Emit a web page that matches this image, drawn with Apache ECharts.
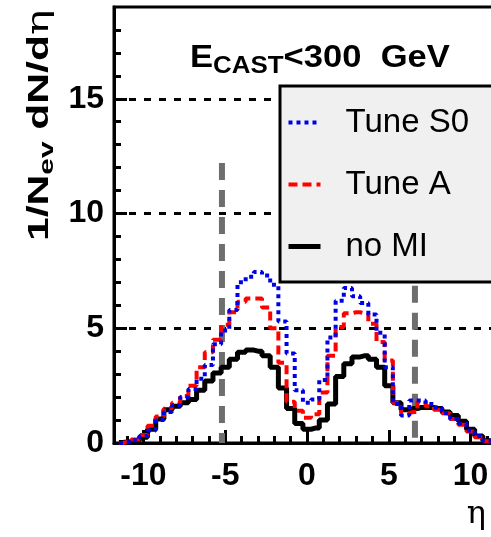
<!DOCTYPE html>
<html>
<head>
<meta charset="utf-8">
<script src="https://cdn.jsdelivr.net/npm/echarts@6/dist/echarts.min.js"></script>
<style>html,body{margin:0;padding:0;background:#fff;}#c{width:491px;height:537px;}</style>
</head>
<body>
<div id="c"></div>
<script>
const eta = [-11.5,-11,-10.5,-10,-9.5,-9,-8.5,-8,-7.5,-7,-6.5,-6,-5.5,-5,-4.5,-4,-3.5,-3,-2.5,-2,-1.5,-1,-0.5,0,0.5,1,1.5,2,2.5,3,3.5,4,4.5,5,5.5,6,6.5,7,7.5,8,8.5,9,9.5,10,10.5,11,11.5];
const tuneS0 = [0.0,0.03,0.12,0.3,0.55,1.0,1.35,1.65,2.0,2.35,2.8,3.4,4.3,4.9,5.8,7.0,7.25,7.45,7.3,6.9,5.3,3.9,2.3,1.75,1.9,2.75,4.6,6.2,6.75,6.4,6.1,5.6,4.8,3.3,1.7,1.2,1.85,1.85,1.7,1.55,1.3,1.05,0.85,0.55,0.3,0.1,0.02];
const tuneA = [0.0,0.05,0.15,0.35,0.75,1.15,1.5,1.75,2.05,2.5,3.3,3.95,4.5,5.15,5.7,6.15,6.3,6.3,5.9,5.0,3.5,1.8,1.4,1.1,1.25,2.2,3.8,5.05,5.65,5.7,5.65,5.2,4.4,3.6,1.75,1.3,1.35,1.8,1.6,1.45,1.3,1.05,0.8,0.5,0.25,0.08,0.02];
const noMI = [0.02,0.05,0.1,0.25,0.6,1.05,1.45,1.6,1.75,1.9,2.3,2.7,3.05,3.3,3.65,3.95,4.05,4.0,3.8,3.3,2.4,1.5,0.85,0.6,0.65,1.0,1.7,2.9,3.45,3.75,3.8,3.65,3.3,2.5,1.75,1.45,1.5,1.55,1.55,1.5,1.35,1.2,0.95,0.6,0.3,0.1,0.02];
const cutLeft = { eta: -5.2, top: 12.2 };
const cutRight = { eta: 6.6, top: 6.85 };
const xMajor = [-10,-5,0,5,10];
const xMinor = [-11,-10,-9,-8,-7,-6,-5,-4,-3,-2,-1,0,1,2,3,4,5,6,7,8,9,10,11];
const yMajor = [0,5,10,15];
const yMinor = [1,2,3,4,5,6,7,8,9,10,11,12,13,14,15,16,17,18];
const seriesNames = ['Tune S0','Tune A','no MI'];
const lineWidths = [4,4,5];

const pairs = v => eta.map((e,i)=>[e, v[i]]);
const chart = echarts.init(document.getElementById('c'), null, {renderer:'canvas'});
const F = 'Liberation Sans, Arial, sans-serif';
const lbl = {fontFamily:F, fontWeight:'bold', fontSize:32, color:'#000'};
chart.setOption({
  animation:false,
  backgroundColor:'#fff',
  grid:{left:114, top:7, width:386, height:436, show:true, borderColor:'#000', borderWidth:3,
        backgroundColor:'transparent', containLabel:false, outerBoundsMode:'none'},
  xAxis:[
    {type:'value', min:-11.8, max:11.8, position:'bottom',
     axisLine:{show:true, onZero:false, lineStyle:{color:'#000', width:3}},
     axisTick:{show:true, inside:true, length:13, customValues:xMajor, lineStyle:{color:'#000', width:3}},
     axisLabel:{show:true, customValues:xMajor, margin:17, ...lbl},
     splitLine:{show:false}},
    {type:'value', min:-11.8, max:11.8, position:'bottom',
     axisLine:{show:false, onZero:false},
     axisTick:{show:true, inside:true, length:7, customValues:xMinor, lineStyle:{color:'#000', width:3}},
     axisLabel:{show:false}, splitLine:{show:false}}
  ],
  yAxis:[
    {type:'value', min:0, max:19, position:'left',
     axisLine:{show:true, onZero:false, lineStyle:{color:'#000', width:3}},
     axisTick:{show:true, inside:true, length:13, customValues:yMajor, lineStyle:{color:'#000', width:3}},
     axisLabel:{show:true, customValues:yMajor, margin:10, ...lbl},
     splitLine:{show:true, lineStyle:{color:'#000', width:3, type:[7,8]}}},
    {type:'value', min:0, max:19, position:'left',
     axisLine:{show:false, onZero:false},
     axisTick:{show:true, inside:true, length:7, customValues:yMinor, lineStyle:{color:'#000', width:3}},
     axisLabel:{show:false}, splitLine:{show:false}}
  ],
  legend:{
    data:seriesNames.map((n,i)=>({name:n, lineStyle:{width:lineWidths[i]}})),
    orient:'vertical', left:280, top:86,
    backgroundColor:'#f0f0f0', borderColor:'#000', borderWidth:3, borderRadius:0,
    padding:[20,80,19,6], itemGap:29, itemWidth:32, itemHeight:14,
    itemStyle:{opacity:0},
    textStyle:{fontFamily:F, fontSize:33, color:'#000', padding:[0,0,0,20]},
    selectedMode:false
  },
  series:[
    {name:'cutL', type:'line', data:[[cutLeft.eta,cutLeft.top],[cutLeft.eta,0]], symbol:'none', silent:true,
     lineStyle:{color:'#6e6e6e', width:6, type:[17,10]}, z:1},
    {name:'cutR', type:'line', data:[[cutRight.eta,cutRight.top],[cutRight.eta,0]], symbol:'none', silent:true,
     lineStyle:{color:'#6e6e6e', width:6, type:[17,10]}, z:1},
    {name:'no MI', type:'line', step:'middle', data:pairs(noMI), symbol:'none', color:'#000',
     lineStyle:{color:'#000', width:lineWidths[2]}, z:2},
    {name:'Tune A', type:'line', step:'middle', data:pairs(tuneA), symbol:'none', color:'#ff0000',
     lineStyle:{color:'#ff0000', width:lineWidths[1], type:[9,5]}, z:3},
    {name:'Tune S0', type:'line', step:'middle', data:pairs(tuneS0), symbol:'none', color:'#0000e6',
     lineStyle:{color:'#0000e6', width:lineWidths[0], type:[4,4]}, z:4}
  ],
  graphic:[
    {type:'text', x:40, y:241, rotation:Math.PI/2, scaleX:1.42,
     style:{text:'{b|1/N}{s|ev}{b| dN/d}{g|η}', align:'left', verticalAlign:'middle',
       rich:{b:{fontFamily:F, fontWeight:'bold', fontSize:30, lineHeight:36, verticalAlign:'middle'},
             s:{fontFamily:F, fontWeight:'bold', fontSize:21, lineHeight:36, verticalAlign:'bottom'},
             g:{fontFamily:'DejaVu Serif, serif', fontSize:30, lineHeight:36, verticalAlign:'middle'}}}},
    {type:'text', x:190, y:58, scaleX:1.08,
     style:{text:'{b|E}{s|CAST}{b|<300  GeV}', align:'left', verticalAlign:'middle',
       rich:{b:{fontFamily:F, fontWeight:'bold', fontSize:32, lineHeight:40, verticalAlign:'middle'},
             s:{fontFamily:F, fontWeight:'bold', fontSize:24, lineHeight:40, verticalAlign:'bottom'}}}},
    {type:'text', x:486, y:515, style:{text:'η', align:'right', verticalAlign:'middle', fontFamily:'DejaVu Serif, serif', fontSize:32, fill:'#000'}}
  ]
});
</script>
</body>
</html>
